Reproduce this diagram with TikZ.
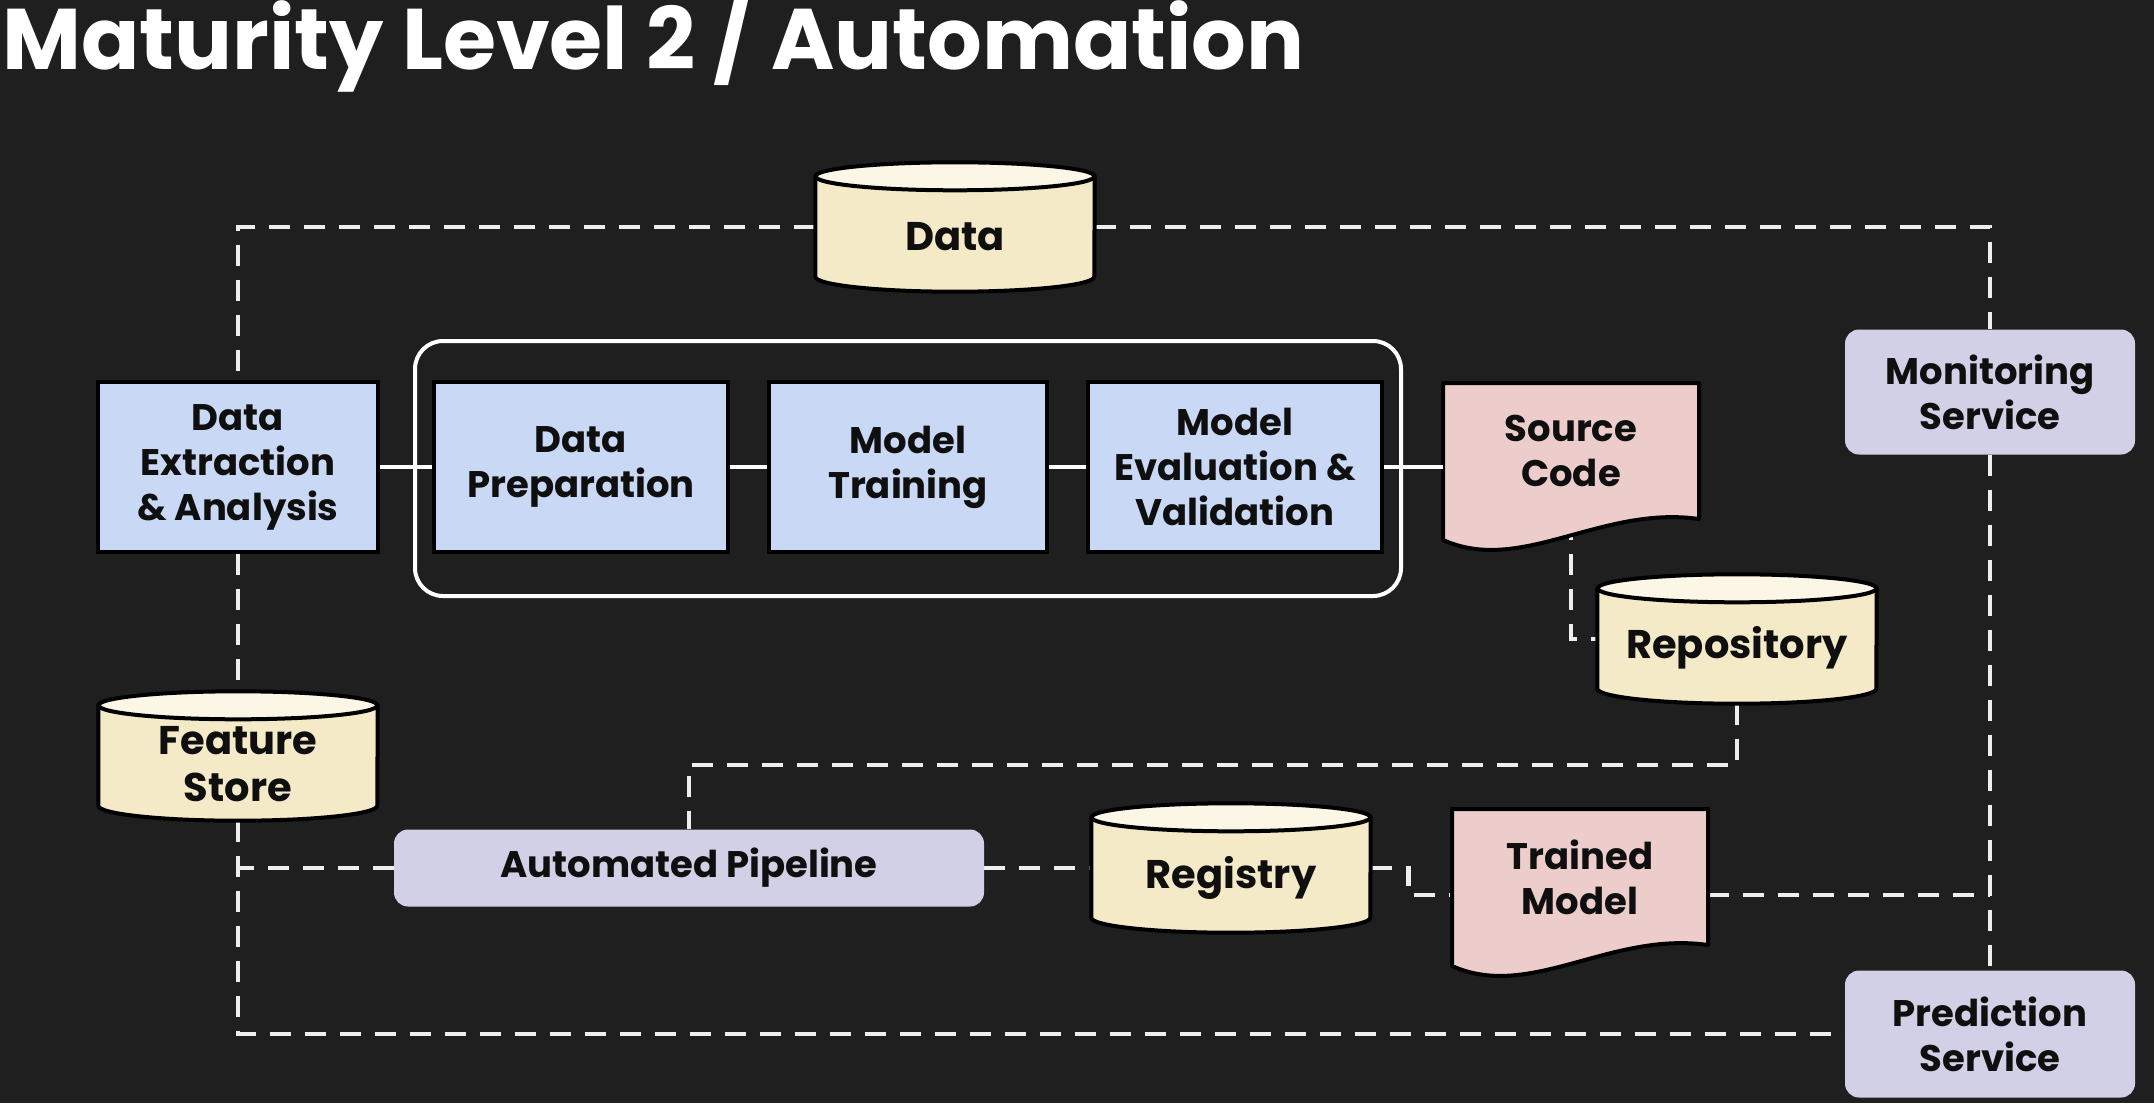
\documentclass[tikz,border=0pt]{standalone}
\usepackage{fontspec}
\setmainfont{Poppins}
\usetikzlibrary{calc}
\definecolor{bgc}{RGB}{31,31,31}
\definecolor{bluebox}{RGB}{201,216,244}
\definecolor{cylbody}{RGB}{245,234,200}
\definecolor{cyltop}{RGB}{251,246,230}
\definecolor{pinkdoc}{RGB}{237,205,204}
\definecolor{lav}{RGB}{210,208,230}
\definecolor{lnc}{RGB}{238,238,238}
\definecolor{ink}{RGB}{15,15,15}
\pgfdeclarelayer{bgl}
\pgfdeclarelayer{shp}
\pgfsetlayers{bgl,shp,main}
\newcommand{\boxfont}{\fontsize{37}{45}\selectfont\bfseries}
\newcommand{\cylfont}{\fontsize{40}{47}\selectfont\bfseries}
\newcommand{\drawcyl}[1]{%
\begin{pgfonlayer}{shp}
\draw[cylline,fill=cylbody] ($(#1.north west)+(0,14)$) -- ($(#1.south west)+(0,-15)$) arc[start angle=180,end angle=360,x radius=139.5pt,y radius=15pt] -- ($(#1.north east)+(0,14)$) -- cycle;
\draw[cylline,fill=cyltop] ($(#1.north)+(0,14)$) ellipse[x radius=139.5pt,y radius=14pt];
\end{pgfonlayer}}
\newcommand{\drawdoc}[1]{%
\begin{pgfonlayer}{shp}
\draw[cylline,fill=pinkdoc] ($(#1.center)+(-128,-68)$) -- ($(#1.center)+(128,-68)$) -- ($(#1.center)+(128,68)$) .. controls ($(#1.center)+(30,54)$) and ($(#1.center)+(-50,124)$) .. ($(#1.center)+(-128,89)$) -- cycle;
\end{pgfonlayer}}
\begin{document}
\begin{tikzpicture}[x=1pt,y=-1pt,
  cylline/.style={draw=black,line width=4pt,line join=round},
  bluestep/.style={draw=black,line width=4pt,fill=bluebox,minimum height=170,inner sep=0pt,align=center,text=ink,font=\boxfont},
  cylnode/.style={minimum width=279,minimum height=129,inner sep=0pt},
  cyltext/.style={inner sep=0pt,align=center,text=ink,font=\cylfont},
  docnode/.style={minimum width=256,minimum height=136,inner sep=0pt,align=center,text=ink,font=\boxfont},
  lavnode/.style={fill=lav,rounded corners=14pt,inner sep=0pt,align=center,text=ink,font=\boxfont},
  dashlink/.style={draw=lnc,line width=4.5pt,dash pattern=on 21pt off 14pt},
  solidlink/.style={draw=white,line width=4pt},
  container/.style={draw=white,line width=4pt,rounded corners=28pt,minimum width=986,minimum height=255,inner sep=0pt}]
\useasboundingbox (0,0) rectangle (2154,1103);
\begin{pgfonlayer}{bgl}
\fill[bgc] (0,0) rectangle (2154,1103);
\end{pgfonlayer}

\node[anchor=base west,text=white,font=\fontsize{86}{92}\selectfont\bfseries,inner sep=0pt] (title) at (2,69) {Maturity Level 2 / Automation};

% container
\node[container] (grp) at (908,468.5) {};

% blue steps
\node[bluestep,minimum width=280] (dea) at (238,467) {Data\\Extraction\\\& Analysis};
\node[bluestep,minimum width=294] (dp) at (581,467) {Data\\Preparation};
\node[bluestep,minimum width=278] (mt) at (908,467) {Model\\Training};
\node[bluestep,minimum width=294] (me) at (1235,467) {Model\\Evaluation \&\\Validation};

% cylinders
\node[cylnode] (data) at (955,227) {};
\drawcyl{data}
\node[cyltext] (datatxt) at ($(data.center)+(0,10)$) {Data};
\node[cylnode] (repo) at (1737,639) {};
\drawcyl{repo}
\node[cyltext] (repotxt) at ($(repo.center)+(0,9)$) {Repository};
\node[cylnode] (fs) at (238,756) {};
\drawcyl{fs}
\node[cyltext] (fstxt) at ($(fs.center)+(0,8)$) {Feature\\Store};
\node[cylnode] (reg) at (1231,868) {};
\drawcyl{reg}
\node[cyltext] (regtxt) at ($(reg.center)+(0,10)$) {Registry};

% documents
\node[docnode] (sc) at (1571,451) {Source\\Code};
\drawdoc{sc}
\node[docnode] (tm) at (1580,877) {Trained\\Model};
\drawdoc{tm}

% lavender services
\node[lavnode,minimum width=290,minimum height=125] (mon) at (1990,392) {Monitoring\\Service};
\node[lavnode,minimum width=290,minimum height=127] (pred) at (1990,1034) {Prediction\\Service};
\node[lavnode,minimum width=590,minimum height=77] (ap) at (689,868) {Automated Pipeline};

\coordinate (busy) at (0,765);

\begin{pgfonlayer}{bgl}
\draw[dashlink] (data.west) -| (dea.north);
\draw[dashlink] (data.east) -| (mon.north);
\draw[dashlink] (dea.south) -- (fs.north);
\draw[dashlink] (fs.south) |- (pred.west);
\draw[dashlink] (ap.west) -- (ap.west -| fs.south);
\draw[dashlink] (ap.east) -- (reg.west);
\draw[dashlink] (reg.east) -- ($(reg.east)+(38,0)$) |- ([yshift=-18pt]tm.west);
\draw[dashlink] (mon.south) -- (pred.north);
\draw[dashlink] ([yshift=-18pt]tm.east) -- ([yshift=-18pt]tm.east -| mon.south);
\draw[dashlink] (sc.south) |- (repo.west);
\draw[dashlink] (repo.south) -- (repo.south |- busy) -| (ap.north);
\end{pgfonlayer}

\draw[solidlink] (dea.east) -- (dp.west);
\draw[solidlink] (dp.east) -- (mt.west);
\draw[solidlink] (mt.east) -- (me.west);
\draw[solidlink] (me.east) -- (me.east -| sc.west);
\end{tikzpicture}
\end{document}
